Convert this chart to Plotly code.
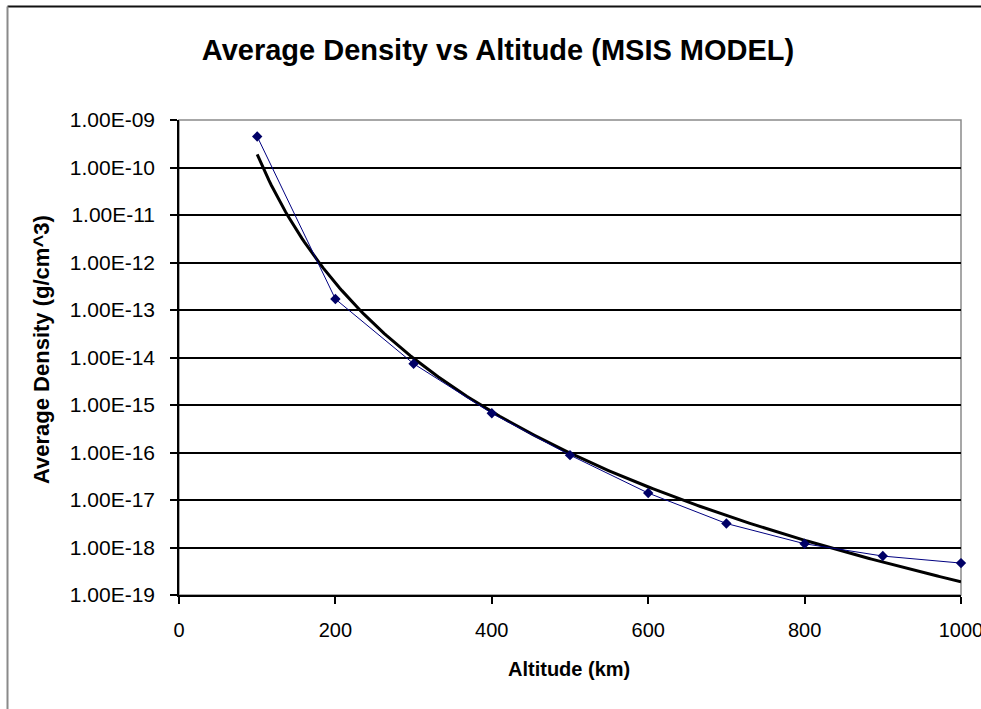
import numpy as np
import plotly.graph_objects as go

# MSIS model average density samples
altitude_km = [100, 200, 300, 400, 500, 600, 700, 800, 900, 1000]
density_g_cm3 = [4.5e-10, 1.7e-13, 7.4e-15, 6.7e-16, 8.8e-17,
                 1.4e-17, 3.2e-18, 1.2e-18, 6.6e-19, 4.7e-19]

# y-axis decades and their labels
y_tick_vals = [1e-9, 1e-10, 1e-11, 1e-12, 1e-13, 1e-14,
               1e-15, 1e-16, 1e-17, 1e-18, 1e-19]
y_tick_text = ["1.00E-09", "1.00E-10", "1.00E-11", "1.00E-12", "1.00E-13",
               "1.00E-14", "1.00E-15", "1.00E-16", "1.00E-17", "1.00E-18",
               "1.00E-19"]
x_tick_vals = [0, 200, 400, 600, 800, 1000]

# Power-law trendline (least squares in log-log space)
lx = np.log10(altitude_km)
ly = np.log10(density_g_cm3)
b, a = np.polyfit(lx, ly, 1)
x_fit = np.linspace(min(altitude_km), max(altitude_km), 300)
y_fit = 10 ** (a + b * np.log10(x_fit))

FONT = "Liberation Sans, Arial, sans-serif"
W, H = 981, 709
ML, MR, MT, MB = 179, 20, 120, 114
PW, PH = W - ML - MR, H - MT - MB


def px_x(p):
    return (p - ML) / PW


def px_y(p):
    return (H - MB - p) / PH


fig = go.Figure()
fig.add_trace(go.Scatter(
    x=x_fit, y=y_fit, mode="lines",
    line=dict(color="#000000", width=3),
    hoverinfo="skip", showlegend=False, cliponaxis=False,
))
fig.add_trace(go.Scatter(
    x=altitude_km, y=density_g_cm3, mode="lines+markers",
    line=dict(color="#000080", width=1),
    marker=dict(symbol="diamond", size=8, color="#000066"),
    showlegend=False, cliponaxis=False,
))

fig.update_layout(
    width=W, height=H,
    margin=dict(l=ML, r=MR, t=MT, b=MB, pad=0, autoexpand=False),
    paper_bgcolor="white", plot_bgcolor="white",
    font=dict(family=FONT, color="#000000"),
    title=dict(
        text="<b>Average Density vs Altitude (MSIS MODEL)</b>",
        font=dict(size=29, family=FONT, color="#000000"),
        xref="container", x=498 / W, xanchor="center",
        yref="container", y=1 - 50 / H, yanchor="middle",
    ),
    xaxis=dict(
        range=[0, 1000], tickvals=x_tick_vals,
        showgrid=False, zeroline=False, automargin=False,
        showline=True, linecolor="#000000", linewidth=1.5,
        ticks="outside", ticklen=7, tickcolor="#000000", tickwidth=1.5,
        tickfont=dict(size=20, family=FONT, color="#000000"),
        ticklabelstandoff=9, ticklabeloverflow="allow",
    ),
    yaxis=dict(
        type="log", range=[-19, -9],
        tickvals=y_tick_vals, ticktext=y_tick_text,
        showgrid=True, gridcolor="#000000", gridwidth=1.5,
        zeroline=False, automargin=False,
        showline=True, linecolor="#000000", linewidth=1.5,
        ticks="outside", ticklen=7, tickcolor="#000000", tickwidth=1.5,
        tickfont=dict(size=21, family=FONT, color="#000000"),
        ticklabelstandoff=11,
    ),
    annotations=[
        dict(text="<b>Average Density (g/cm^3)</b>", textangle=-90,
             xref="paper", yref="paper", x=px_x(41), y=px_y(350),
             xanchor="center", yanchor="middle", showarrow=False,
             font=dict(size=22, family=FONT, color="#000000")),
        dict(text="<b>Altitude (km)</b>",
             xref="paper", yref="paper", x=px_x(569), y=px_y(669),
             xanchor="center", yanchor="middle", showarrow=False,
             font=dict(size=20, family=FONT, color="#000000")),
    ],
    shapes=[
        # plot-area frame
        dict(type="rect", xref="paper", yref="paper", x0=0, y0=0, x1=1, y1=1,
             line=dict(color="#8a8a8a", width=1.5), layer="below"),
        # chart-area frame (top and left edges)
        dict(type="line", xref="paper", yref="paper",
             x0=px_x(7.5), x1=px_x(W), y0=px_y(6.5), y1=px_y(6.5),
             line=dict(color="#111111", width=2)),
        dict(type="line", xref="paper", yref="paper",
             x0=px_x(7.5), x1=px_x(7.5), y0=px_y(6.5), y1=px_y(H),
             line=dict(color="#8a8a8a", width=2)),
    ],
)

fig.write_html("out.html", config={"displayModeBar": False})
